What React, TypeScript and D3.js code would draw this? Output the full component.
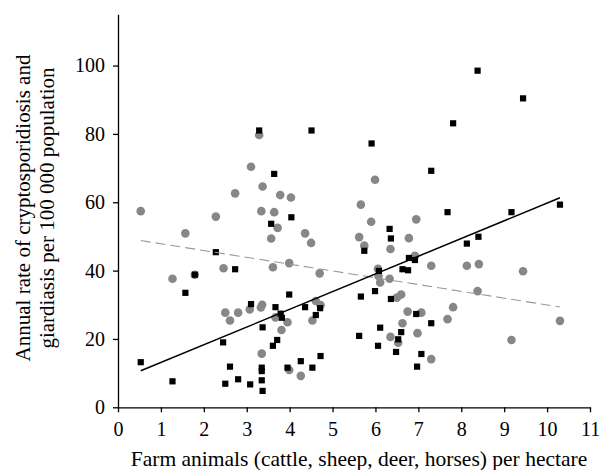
import { useEffect, useRef } from 'react';
import * as d3 from 'd3';

// Farm animals per hectare (x) vs annual rate per 100 000 (y)
// black squares
const squareX = [3.29, 4.51, 3.64, 8.38, 9.44, 7.81, 5.91, 7.30, 10.30, 4.04, 3.57, 2.28, 2.73, 1.79, 1.57, 3.99, 3.10, 3.67, 4.36, 4.71, 4.61, 3.79, 3.82, 3.37, 2.45, 3.71, 3.61, 4.72, 0.53, 4.26, 2.61, 3.35, 3.35, 3.95, 4.53, 1.27, 2.50, 2.80, 3.08, 3.35, 3.37, 7.68, 9.17, 6.33, 6.36, 5.74, 8.40, 8.13, 6.78, 6.92, 6.08, 6.63, 6.76, 5.99, 5.66, 6.36, 6.95, 7.30, 6.11, 6.60, 5.62, 6.53, 6.06, 6.48, 7.07, 6.97];
const squareY = [81.0, 81.0, 68.3, 98.5, 90.4, 83.1, 77.2, 69.2, 59.3, 55.6, 53.7, 45.4, 40.4, 38.8, 33.5, 33.0, 30.2, 29.3, 29.3, 29.0, 27.0, 27.4, 26.2, 23.4, 19.0, 19.7, 18.0, 15.0, 13.2, 13.5, 11.9, 11.6, 10.6, 11.6, 11.6, 7.6, 6.9, 8.2, 6.7, 7.9, 4.8, 57.1, 57.1, 52.2, 49.4, 45.8, 49.9, 47.9, 43.7, 43.1, 39.9, 40.4, 40.1, 34.0, 32.4, 31.7, 27.3, 24.6, 23.3, 22.0, 20.9, 19.9, 18.0, 16.2, 15.6, 11.9];

// grey circles
const circleX = [3.29, 3.10, 3.37, 2.73, 3.78, 4.03, 5.99, 5.66, 0.53, 2.28, 3.34, 3.64, 3.72, 1.57, 4.36, 4.50, 3.57, 2.46, 3.61, 3.99, 4.70, 1.27, 1.79, 3.36, 3.33, 2.50, 2.80, 3.07, 4.61, 4.72, 4.53, 3.67, 2.61, 3.95, 3.81, 3.35, 3.99, 4.26, 5.90, 6.95, 5.62, 5.74, 6.78, 6.35, 6.92, 7.30, 8.13, 8.41, 9.44, 6.06, 6.07, 6.11, 6.33, 6.50, 6.60, 8.38, 7.81, 7.68, 6.75, 7.07, 6.63, 6.98, 6.35, 6.53, 9.17, 10.30, 7.30];
const circleY = [79.7, 70.4, 64.6, 62.6, 62.1, 61.4, 66.6, 59.3, 57.4, 55.8, 57.4, 57.1, 52.5, 50.9, 50.9, 48.1, 49.4, 40.7, 41.0, 42.2, 39.2, 37.6, 38.8, 30.0, 29.2, 27.7, 27.7, 28.6, 31.1, 29.9, 25.4, 26.3, 25.4, 24.9, 22.6, 15.7, 10.9, 9.2, 54.3, 55.0, 49.8, 47.3, 49.5, 46.3, 44.3, 41.4, 41.4, 41.9, 39.8, 40.5, 38.4, 36.5, 37.6, 32.1, 33.0, 34.0, 29.3, 25.8, 28.0, 27.7, 24.6, 21.7, 20.6, 18.9, 19.7, 25.3, 14.1];

// fitted lines: [x start, x end], intercept, slope
const lineRange = [0.53, 10.3];
const squareFit = { a: 7.95, b: 5.18 };
const circleFit = { a: 49.85, b: -1.99 };

const xTicks = [0, 1, 2, 3, 4, 5, 6, 7, 8, 9, 10, 11];
const yTicks = [0, 20, 40, 60, 80, 100];

const W = 601;
const H = 470;
const FONT = '"Liberation Serif", "Times New Roman", serif';

export default function App() {
  const svgRef = useRef<SVGSVGElement>(null);

  useEffect(() => {
    const svg = d3.select(svgRef.current);
    svg.selectAll('*').remove();

    const x = d3.scaleLinear().domain([0, 11]).range([118, 590]);
    const y = d3.scaleLinear().domain([0, 115]).range([407.3, 14.3]);

    // x axis
    const gx = svg.append('g')
      .attr('transform', `translate(0,${y(0)})`)
      .call(d3.axisBottom(x).tickValues(xTicks).tickSize(5).tickSizeOuter(0).tickPadding(10).tickFormat(d3.format('d')));
    // y axis
    const gy = svg.append('g')
      .attr('transform', `translate(${x(0)},0)`)
      .call(d3.axisLeft(y).tickValues(yTicks).tickSize(5).tickSizeOuter(0).tickPadding(8).tickFormat(d3.format('d')));

    [gx, gy].forEach(g => {
      g.select('.domain').attr('stroke', '#000').attr('stroke-width', 1.3);
      g.selectAll('.tick line').attr('stroke', '#000').attr('stroke-width', 1.3);
      g.selectAll('.tick text')
        .attr('fill', '#000')
        .style('font-family', FONT)
        .style('font-size', '20px');
    });

    // circles
    svg.append('g')
      .selectAll('circle')
      .data(d3.range(circleX.length))
      .join('circle')
      .attr('cx', i => x(circleX[i]))
      .attr('cy', i => y(circleY[i]))
      .attr('r', 4.3)
      .attr('fill', '#878787');

    // squares
    const s = 6.2;
    svg.append('g')
      .selectAll('rect')
      .data(d3.range(squareX.length))
      .join('rect')
      .attr('x', i => x(squareX[i]) - s / 2)
      .attr('y', i => y(squareY[i]) - s / 2)
      .attr('width', s)
      .attr('height', s)
      .attr('fill', '#000');

    const fitLine = (f: { a: number; b: number }) =>
      d3.line<number>().x(v => x(v)).y(v => y(f.a + f.b * v))(lineRange);

    svg.append('path')
      .attr('d', fitLine(circleFit))
      .attr('fill', 'none')
      .attr('stroke', '#999')
      .attr('stroke-width', 1.1)
      .attr('stroke-dasharray', '10,5');

    svg.append('path')
      .attr('d', fitLine(squareFit))
      .attr('fill', 'none')
      .attr('stroke', '#000')
      .attr('stroke-width', 1.5);

    // axis titles
    svg.append('text')
      .attr('x', 359)
      .attr('y', 466)
      .attr('text-anchor', 'middle')
      .style('font-family', FONT)
      .style('font-size', '21.5px')
      .text('Farm animals (cattle, sheep, deer, horses) per hectare');

    const yt = svg.append('text')
      .attr('transform', 'translate(30,208) rotate(-90)')
      .attr('text-anchor', 'middle')
      .style('font-family', FONT)
      .style('font-size', '21px');
    yt.append('tspan').attr('x', 0).attr('y', 0).text('Annual rate of cryptosporidiosis and');
    yt.append('tspan').attr('x', 0).attr('y', 24).text('giardiasis per 100 000 population');
  }, []);

  return (
    <svg
      ref={svgRef}
      width={W}
      height={H}
      style={{ position: 'absolute', left: 0, top: 0, background: '#fff' }}
    />
  );
}
